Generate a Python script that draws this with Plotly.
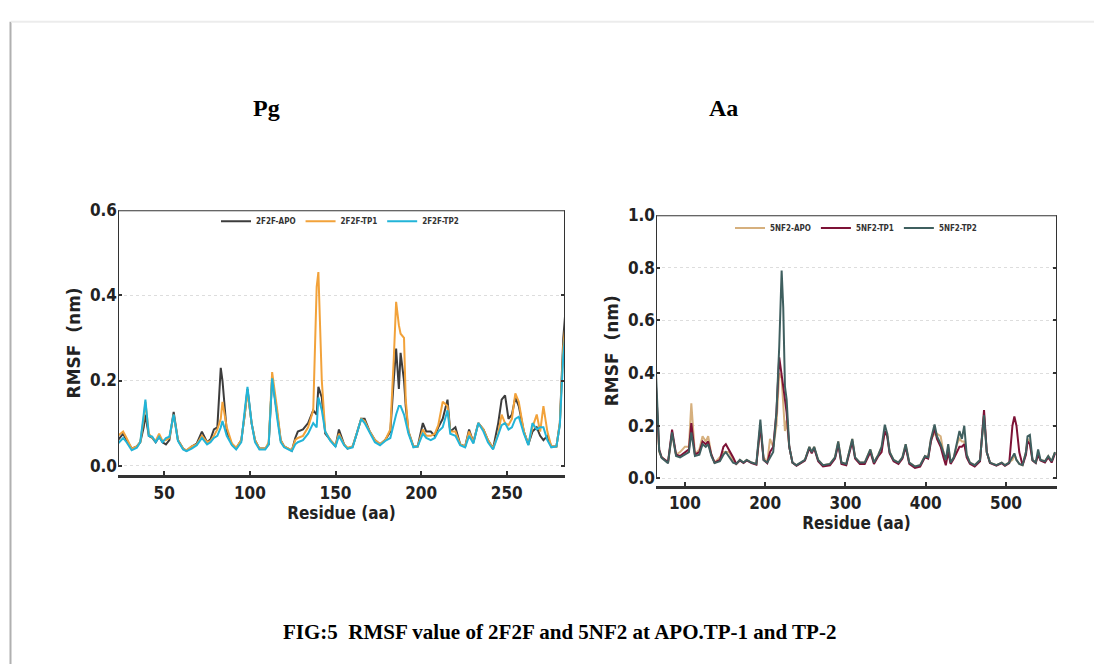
import plotly.graph_objects as go

# ---------------- Data: Pg (2F2F) ----------------
res_pg = [23, 26, 28, 31, 34, 36, 38, 39, 41, 43, 45, 47, 49, 51, 53, 55.5, 58, 61, 63, 66,
          69, 72, 75, 77, 79, 81, 83, 84, 86.5, 89.5, 92, 95, 97, 98.6, 101, 103, 105.6, 109, 111, 113,
          116, 118, 120, 122.6, 124.5, 126.5, 128, 131, 134, 137, 139, 140, 142, 144, 147, 150, 152, 155, 157, 160,
          162, 165, 167, 170, 173, 176, 179, 182, 184, 185.4, 187, 188, 190, 191, 192.6, 195.5, 198, 201, 203, 205.6,
          208, 210, 212.6, 215.4, 217, 220, 222.8, 225.7, 228, 230.5, 233.4, 236.4, 239, 242, 245, 247, 249, 251, 253, 255,
          257, 260, 262.6, 265, 267.5, 269.5, 271.4, 273.7, 276, 279, 281, 283, 284]
apo_pg = [.060, .075, .060, .040, .045, .055, .090, .120, .070, .065, .055, .068, .055, .050, .060, .126, .060, .040, .035, .045,
          .052, .080, .055, .062, .085, .090, .230, .200, .080, .050, .040, .060, .120, .180, .100, .060, .040, .040, .050, .205,
          .120, .060, .045, .040, .035, .065, .080, .085, .100, .130, .120, .185, .160, .075, .060, .045, .085, .050, .040, .045,
          .070, .110, .110, .080, .060, .050, .060, .080, .200, .275, .180, .265, .200, .140, .080, .045, .045, .100, .080, .080,
          .070, .090, .110, .155, .080, .090, .050, .045, .085, .055, .100, .085, .060, .040, .100, .155, .165, .110, .120, .160,
          .140, .080, .050, .080, .090, .070, .060, .070, .045, .045, .100, .300, .350]
tp1_pg = [.070, .080, .065, .040, .045, .055, .110, .150, .075, .065, .058, .075, .058, .060, .065, .120, .060, .040, .036, .045,
          .050, .070, .055, .058, .070, .085, .110, .150, .090, .052, .042, .060, .120, .175, .100, .060, .040, .040, .055, .220,
          .130, .060, .045, .040, .036, .060, .065, .070, .090, .130, .420, .455, .200, .080, .060, .048, .075, .050, .042, .045,
          .070, .110, .105, .080, .060, .050, .060, .085, .250, .385, .330, .310, .300, .155, .080, .045, .045, .085, .070, .070,
          .075, .095, .150, .140, .080, .080, .050, .045, .080, .055, .100, .085, .060, .040, .075, .120, .100, .095, .110, .170,
          .150, .080, .050, .090, .120, .080, .140, .080, .045, .045, .100, .280, .320]
tp2_pg = [.052, .065, .055, .036, .042, .055, .120, .155, .070, .068, .055, .068, .055, .065, .068, .120, .058, .038, .034, .040,
          .048, .065, .050, .055, .065, .070, .090, .105, .070, .048, .038, .055, .130, .185, .100, .055, .038, .038, .050, .205,
          .110, .055, .043, .038, .034, .050, .055, .060, .075, .100, .090, .160, .130, .080, .058, .045, .070, .048, .040, .043,
          .068, .110, .100, .078, .055, .048, .058, .065, .100, .120, .140, .140, .120, .100, .075, .043, .045, .075, .065, .060,
          .065, .080, .090, .130, .075, .070, .048, .043, .070, .052, .100, .080, .055, .038, .070, .095, .100, .085, .090, .110,
          .115, .075, .048, .100, .085, .090, .090, .060, .043, .045, .095, .260, .300]

# ---------------- Data: Aa (5NF2) ----------------
res_aa = [64, 68, 71, 75, 79, 84, 89, 94, 100, 105, 108, 112.5, 118, 122, 126, 129, 133, 137, 143.6, 148,
          151, 155, 160, 164, 168.5, 173, 177, 183, 189, 194, 198, 202.6, 206, 210, 214, 217.5, 220.5, 222.5, 224.6, 226.7,
          230, 234, 239, 245, 249.5, 255, 258, 261, 266, 272, 280.7, 287, 291, 295, 301, 308.5, 312, 318, 324, 331,
          335.5, 341, 345, 349, 352, 355, 360, 366, 371, 375, 379.5, 386.6, 393, 399, 403, 406.5, 411, 414, 418.6, 422,
          425, 428, 431, 435, 439, 442, 445, 448, 451, 455, 461, 467.6, 472.6, 476, 480, 488, 494.6, 498.7, 504, 508,
          510.4, 513, 516.5, 520.6, 524.8, 526.8, 529.7, 533, 537, 540, 543, 548.5, 552.6, 556.8, 561]
apo_aa = [.300, .100, .080, .070, .060, .170, .090, .100, .120, .120, .285, .090, .110, .160, .140, .160, .090, .060, .080, .100,
          .100, .100, .070, .055, .070, .060, .070, .060, .055, .190, .080, .060, .150, .120, .200, .400, .380, .280, .180, .220,
          .120, .060, .050, .060, .070, .120, .100, .120, .070, .050, .055, .080, .140, .060, .055, .150, .080, .060, .060, .110,
          .060, .090, .120, .170, .170, .100, .070, .060, .080, .130, .060, .045, .050, .085, .080, .150, .170, .170, .160, .100,
          .060, .120, .060, .080, .130, .150, .140, .140, .090, .060, .050, .070, .240, .100, .060, .050, .060, .050, .060, .070,
          .090, .070, .055, .050, .100, .150, .140, .070, .060, .090, .070, .065, .085, .065, .100]
tp1_aa = [.350, .110, .080, .070, .062, .185, .090, .085, .100, .110, .210, .090, .100, .140, .130, .140, .090, .060, .070, .120,
          .130, .110, .080, .055, .068, .058, .068, .058, .052, .200, .070, .058, .100, .120, .250, .460, .380, .350, .300, .250,
          .120, .060, .048, .058, .068, .115, .095, .115, .065, .045, .050, .075, .130, .055, .050, .140, .075, .055, .055, .100,
          .055, .085, .100, .180, .160, .095, .065, .055, .075, .120, .055, .040, .045, .080, .075, .140, .190, .150, .120, .080,
          .050, .100, .055, .075, .100, .120, .120, .130, .080, .055, .045, .065, .260, .100, .058, .048, .058, .048, .058, .200,
          .235, .200, .100, .050, .090, .140, .130, .068, .058, .090, .068, .060, .080, .060, .095]
tp2_aa = [.400, .105, .078, .068, .058, .175, .085, .080, .090, .100, .175, .085, .090, .130, .120, .130, .085, .058, .065, .090,
          .100, .080, .060, .055, .070, .060, .070, .060, .055, .223, .070, .060, .080, .100, .250, .500, .790, .650, .350, .300,
          .120, .060, .050, .060, .070, .120, .100, .120, .070, .050, .055, .080, .140, .060, .055, .150, .080, .060, .060, .110,
          .060, .090, .120, .204, .170, .100, .070, .060, .080, .130, .060, .045, .050, .085, .080, .150, .205, .160, .130, .100,
          .070, .130, .060, .080, .140, .180, .150, .200, .090, .060, .050, .070, .240, .100, .060, .050, .060, .050, .060, .080,
          .095, .070, .055, .050, .100, .160, .165, .070, .060, .110, .070, .065, .085, .065, .100]

names_pg = ["2F2F-APO", "2F2F-TP1", "2F2F-TP2"]
names_aa = ["5NF2-APO", "5NF2-TP1", "5NF2-TP2"]
colors_pg = ["#3c3c3c", "#f2a23a", "#22b4d8"]
colors_aa = ["#d6b07e", "#7d1236", "#3f5f5f"]

COND = "DejaVu Sans Condensed, Liberation Sans Narrow, DejaVu Sans"
TICKFONT = dict(family=COND, size=17, color="#222", weight="bold")
XTITLEFONT = dict(family=COND, size=17, color="#222", weight="bold")
YTITLEFONT = dict(family="DejaVu Sans", size=17, color="#222", weight="bold")
LEGFONT = dict(family=COND, size=8, color="#333", weight="bold")

fig = go.Figure()
for n, c, ys in zip(names_pg, colors_pg, [apo_pg, tp1_pg, tp2_pg]):
    fig.add_trace(go.Scatter(x=res_pg, y=ys, name=n, mode="lines", line=dict(color=c, width=2),
                             xaxis="x", yaxis="y", legend="legend"))
for n, c, ys in zip(names_aa, colors_aa, [apo_aa, tp1_aa, tp2_aa]):
    fig.add_trace(go.Scatter(x=res_aa, y=ys, name=n, mode="lines", line=dict(color=c, width=2),
                             xaxis="x2", yaxis="y2", legend="legend2"))

W, H = 1094, 666
xr_pg = [23, 284]
yr_pg = [-0.0231, 0.6]
xr_aa = [64, 563.5]
yr_aa = [-0.03, 1.0]

def xdom(a, b):
    return [a / W, b / W]

def ydom(top, bottom):
    return [1 - bottom / H, 1 - top / H]

axis_common = dict(showline=False, zeroline=False, tickfont=TICKFONT, ticks="inside", ticklen=4,
                   tickwidth=1.5, tickcolor="#333")
xcommon = dict(showline=True, linecolor="#333", linewidth=2.5, showgrid=False, zeroline=False,
               ticks="inside", ticklen=5, tickwidth=1.5, tickcolor="#333", tickfont=TICKFONT)
fig.update_layout(
    width=W, height=H, margin=dict(l=0, r=0, t=0, b=0),
    paper_bgcolor="white", plot_bgcolor="white",
    showlegend=True,
    xaxis=dict(domain=xdom(118, 565), range=xr_pg, anchor="y", tickvals=[50, 100, 150, 200, 250],
               title=dict(text="Residue (aa)", font=XTITLEFONT, standoff=0), **xcommon),
    yaxis=dict(domain=ydom(204, 474), range=yr_pg, anchor="x", tickvals=[0.0, 0.2, 0.4, 0.6],
               ticktext=["0.0", "0.2", "0.4", "0.6"], showgrid=True, gridcolor="#dddddd", griddash="dot",
               gridwidth=1, mirror="ticks",
               title=dict(text="RMSF  (nm)", font=YTITLEFONT, standoff=4), **axis_common),
    xaxis2=dict(domain=xdom(656, 1057), range=xr_aa, anchor="y2", tickvals=[100, 200, 300, 400, 500],
                title=dict(text="Residue (aa)", font=XTITLEFONT, standoff=0), **xcommon),
    yaxis2=dict(domain=ydom(209, 485), range=yr_aa, anchor="x2", tickvals=[0.0, 0.2, 0.4, 0.6, 0.8, 1.0],
                ticktext=["0.0", "0.2", "0.4", "0.6", "0.8", "1.0"], showgrid=True, gridcolor="#dddddd",
                griddash="dot", gridwidth=1, mirror="ticks",
                title=dict(text="RMSF  (nm)", font=YTITLEFONT, standoff=4), **axis_common),
    legend=dict(orientation="h", x=340 / W, y=1 - 215 / H, xanchor="center", yanchor="middle",
                font=LEGFONT, bgcolor="rgba(0,0,0,0)", itemwidth=30, tracegroupgap=0),
    legend2=dict(orientation="h", x=856 / W, y=1 - 222 / H, xanchor="center", yanchor="middle",
                 font=LEGFONT, bgcolor="rgba(0,0,0,0)", itemwidth=30, tracegroupgap=0),
)

# Spines (left/top/right) drawn in data coordinates of each subplot
spine = dict(color="#333", width=2)
shapes = []
for xa, ya, xr, yr in [("x", "y", xr_pg, yr_pg), ("x2", "y2", xr_aa, yr_aa)]:
    shapes.append(dict(type="line", xref=xa, yref=ya, x0=xr[0], x1=xr[0], y0=0, y1=yr[1], line=spine))
    shapes.append(dict(type="line", xref=xa, yref=ya, x0=xr[1], x1=xr[1], y0=0, y1=yr[1], line=spine))
    shapes.append(dict(type="line", xref=xa, yref=ya, x0=xr[0], x1=xr[1], y0=yr[1], y1=yr[1], line=spine))
# page frame
shapes.append(dict(type="line", xref="paper", yref="paper", x0=10.5 / W, x1=10.5 / W, y0=0, y1=1 - 12 / H,
                   line=dict(color="#b0b0b0", width=2)))
shapes.append(dict(type="line", xref="paper", yref="paper", x0=11 / W, x1=1, y0=1 - 12 / H, y1=1 - 12 / H,
                   line=dict(color="#ececec", width=2)))
fig.update_layout(shapes=shapes)

SERIF = "Liberation Serif, Times New Roman, serif"
fig.add_annotation(text="<b>Pg</b>", x=266 / W, y=1 - 100 / H, xref="paper", yref="paper",
                   xanchor="center", yanchor="middle",
                   showarrow=False, font=dict(family=SERIF, size=24, color="black"))
fig.add_annotation(text="<b>Aa</b>", x=723 / W, y=1 - 100 / H, xref="paper", yref="paper",
                   xanchor="center", yanchor="middle",
                   showarrow=False, font=dict(family=SERIF, size=24, color="black"))
fig.add_annotation(text="<b>FIG:5  RMSF value of 2F2F and 5NF2 at APO.TP-1 and TP-2</b>", x=559 / W,
                   y=1 - 633 / H, xref="paper", yref="paper", xanchor="center", yanchor="middle",
                   showarrow=False, font=dict(family=SERIF, size=21, color="black"))

fig.write_html("out.html")
